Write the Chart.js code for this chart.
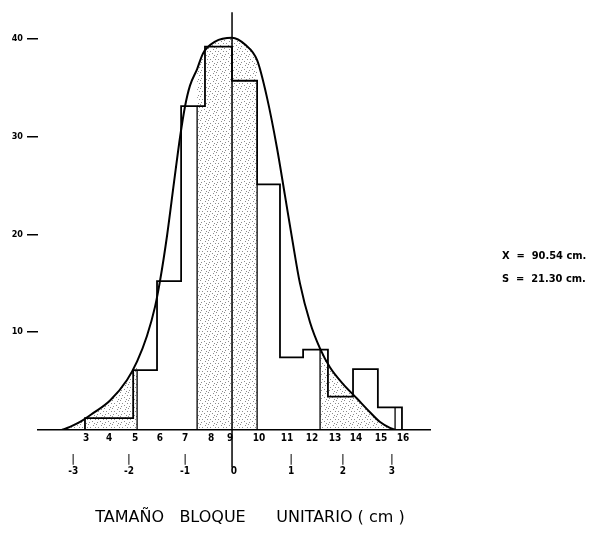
<!DOCTYPE html>
<html>
<head>
<meta charset="utf-8">
<script src="https://cdn.jsdelivr.net/npm/chart.js@4.4.1/dist/chart.umd.min.js"></script>
<style>
  html, body { margin: 0; padding: 0; background: #fff; }
</style>
</head>
<body>
<canvas id="chart" width="594" height="535"></canvas>
<script>
// class edges (in class units) and frequencies of the histogram
const binEdges  = [3.02, 4.00, 4.98, 5.95, 6.93, 7.90, 9.00, 10.02, 10.95, 11.89, 12.90, 13.92, 14.93, 15.91];
const binCounts = [1.2, 1.2, 6.1, 15.2, 33.1, 39.2, 35.7, 25.1, 7.4, 8.2, 3.4, 6.2, 2.3];

// fitted normal curve
const curveX = [2.09, 2.41, 2.82, 3.35, 4.04, 4.73, 5.14, 5.54, 5.87, 6.07, 6.36, 6.64, 6.89, 7.09, 7.29,
                7.58, 7.82, 8.31, 9.00, 9.53, 10.02, 10.42, 10.83, 11.15, 11.44, 11.76, 12.17, 12.58,
                12.98, 13.51, 14.08, 14.61, 15.02, 15.42, 15.63];
const curveY = [0, 0.3, 0.8, 1.7, 3.0, 5.1, 7.0, 9.6, 12.6, 15.2, 19.9, 25.3, 30.0, 33.1, 35.2,
                36.9, 38.5, 39.7, 40.1, 39.4, 37.8, 34.0, 28.8, 24.0, 19.6, 15.0, 11.0, 8.3,
                6.4, 4.7, 3.2, 1.8, 0.8, 0.2, 0];

// stippled stretches under the curve
const shadeFrom = [2.09, 7.58, 12.58];
const shadeTo   = [5.14, 10.02, 15.63];

// axis labels
const classTickPos    = [3.07, 4.00, 5.06, 6.07, 7.09, 8.15, 8.92, 10.10, 11.24, 12.25, 13.19, 14.04, 15.06, 15.95];
const classTickLabels = ['3', '4', '5', '6', '7', '8', '9', '10', '11', '12', '13', '14', '15', '16'];
const sigmaTickPos    = [2.54, 4.81, 7.09, 9.08, 11.40, 13.51, 15.50];
const sigmaTickLabels = ['-3', '-2', '-1', '0', '1', '2', '3'];
const yTickValues     = [10, 20, 30, 40];

const meanX = 9.0;
const statLines = ['X  =  90.54 cm.', 'S  =  21.30 cm.'];
const axisTitle = 'TAMAÑO   BLOQUE      UNITARIO ( cm )';

const FONT = "'DejaVu Sans Condensed', 'DejaVu Sans', sans-serif";

function heightAt(x) {
  for (let i = 0; i < binCounts.length; i++) {
    if (x >= binEdges[i] && x < binEdges[i + 1]) return binCounts[i];
  }
  return 0;
}

// light stipple used for the shaded stretches
function makeStipple() {
  const c = document.createElement('canvas');
  c.width = 8; c.height = 8;
  const g = c.getContext('2d');
  g.fillStyle = 'rgba(0,0,0,0.45)';
  [[0, 0], [5, 1], [2, 3], [7, 3], [4, 5], [1, 6], [6, 7]].forEach(p => g.fillRect(p[0], p[1], 1, 1));
  return g.createPattern(c, 'repeat');
}
const stipple = makeStipple();

const curvePoints = curveX.map((x, i) => ({ x: x, y: curveY[i] }));

// histogram outline as one stepped line
const stepPoints = [{ x: binEdges[0], y: 0 }];
binCounts.forEach((v, i) => stepPoints.push({ x: binEdges[i], y: v }));
stepPoints.push({ x: binEdges[binEdges.length - 1], y: 0 });

const datasets = [];

shadeFrom.forEach((a, k) => {
  const b = shadeTo[k];
  datasets.push({
    data: curvePoints.filter(p => p.x >= a && p.x <= b),
    fill: 'origin',
    backgroundColor: stipple,
    borderWidth: 0,
    pointRadius: 0,
    cubicInterpolationMode: 'monotone',
    order: 6
  });
  // thin edge of the stippled stretch, down to the base line
  [a, b].forEach(x => {
    const h = heightAt(x);
    if (h > 0) {
      datasets.push({
        data: [{ x: x, y: 0 }, { x: x, y: h }],
        borderColor: '#000',
        borderWidth: 1.3,
        pointRadius: 0,
        fill: false,
        order: 5
      });
    }
  });
});

datasets.push({
  data: stepPoints,
  stepped: 'before',
  borderColor: '#000',
  borderWidth: 1.8,
  pointRadius: 0,
  fill: false,
  order: 3
});

datasets.push({
  data: curvePoints,
  borderColor: '#000',
  borderWidth: 2,
  pointRadius: 0,
  fill: false,
  cubicInterpolationMode: 'monotone',
  order: 2
});

// central axis through the mean, running down to the "0" label
datasets.push({
  data: [{ x: meanX, y: -3.85 }, { x: meanX, y: 42.7 }],
  borderColor: '#000',
  borderWidth: 1.5,
  pointRadius: 0,
  fill: false,
  clip: false,
  order: 1
});

const statsText = {
  id: 'statsText',
  afterDraw(chart) {
    const ctx = chart.ctx;
    ctx.save();
    ctx.fillStyle = '#000';
    ctx.font = 'bold 11px ' + FONT;
    ctx.textBaseline = 'middle';
    ctx.textAlign = 'left';
    statLines.forEach((t, i) => ctx.fillText(t, 502, 256 + i * 23));
    ctx.restore();
  }
};

new Chart(document.getElementById('chart'), {
  type: 'line',
  data: { datasets: datasets },
  plugins: [statsText],
  options: {
    responsive: false,
    animation: false,
    devicePixelRatio: 1,
    parsing: false,
    layout: { padding: { left: 0, right: 94, top: 5, bottom: 0 } },
    plugins: {
      legend: { display: false },
      tooltip: { enabled: false },
      title: {
        display: true,
        position: 'bottom',
        text: axisTitle,
        color: '#000',
        font: { family: "'DejaVu Sans', sans-serif", size: 16, weight: 'normal' },
        padding: { top: 22, bottom: 8 }
      }
    },
    scales: {
      x: {
        type: 'linear',
        position: 'bottom',
        min: 1.11,
        max: 17.05,
        afterBuildTicks: s => { s.ticks = classTickPos.map(v => ({ value: v })); },
        afterFit: s => { s.height = 16; },
        grid: { display: false, drawTicks: false },
        border: { display: true, color: '#000', width: 1.5 },
        ticks: {
          autoSkip: false,
          maxRotation: 0,
          padding: 3,
          color: '#000',
          font: { family: FONT, size: 10, weight: 'bold' },
          callback: (v, i) => classTickLabels[i]
        }
      },
      xs: {
        type: 'linear',
        position: 'bottom',
        min: 1.11,
        max: 17.05,
        afterBuildTicks: s => { s.ticks = sigmaTickPos.map(v => ({ value: v })); },
        afterFit: s => { s.height = 40; },
        grid: { display: false, drawTicks: false },
        border: { display: false },
        ticks: {
          autoSkip: false,
          maxRotation: 0,
          padding: 8,
          color: '#000',
          font: { family: FONT, size: 10, weight: 'bold', lineHeight: 1.15 },
          callback: (v, i) => [sigmaTickLabels[i] === '0' ? '' : '|', sigmaTickLabels[i]]
        }
      },
      y: {
        type: 'linear',
        position: 'left',
        min: 0,
        max: 43,
        afterBuildTicks: s => { s.ticks = yTickValues.map(v => ({ value: v })); },
        afterFit: s => { s.width = 38; },
        grid: { drawOnChartArea: false, drawTicks: true, tickLength: 11, color: '#000', lineWidth: 1.5 },
        border: { display: false },
        ticks: {
          padding: 4,
          color: '#000',
          font: { family: FONT, size: 9, weight: 'bold' }
        }
      },
      // empty strip on the right, keeps the plot and the title where they sit in the figure
      yr: {
        type: 'linear',
        position: 'right',
        display: true,
        afterFit: s => { s.width = 70; },
        grid: { display: false, drawTicks: false },
        border: { display: false },
        ticks: { display: false }
      }
    }
  }
});
</script>
</body>
</html>
